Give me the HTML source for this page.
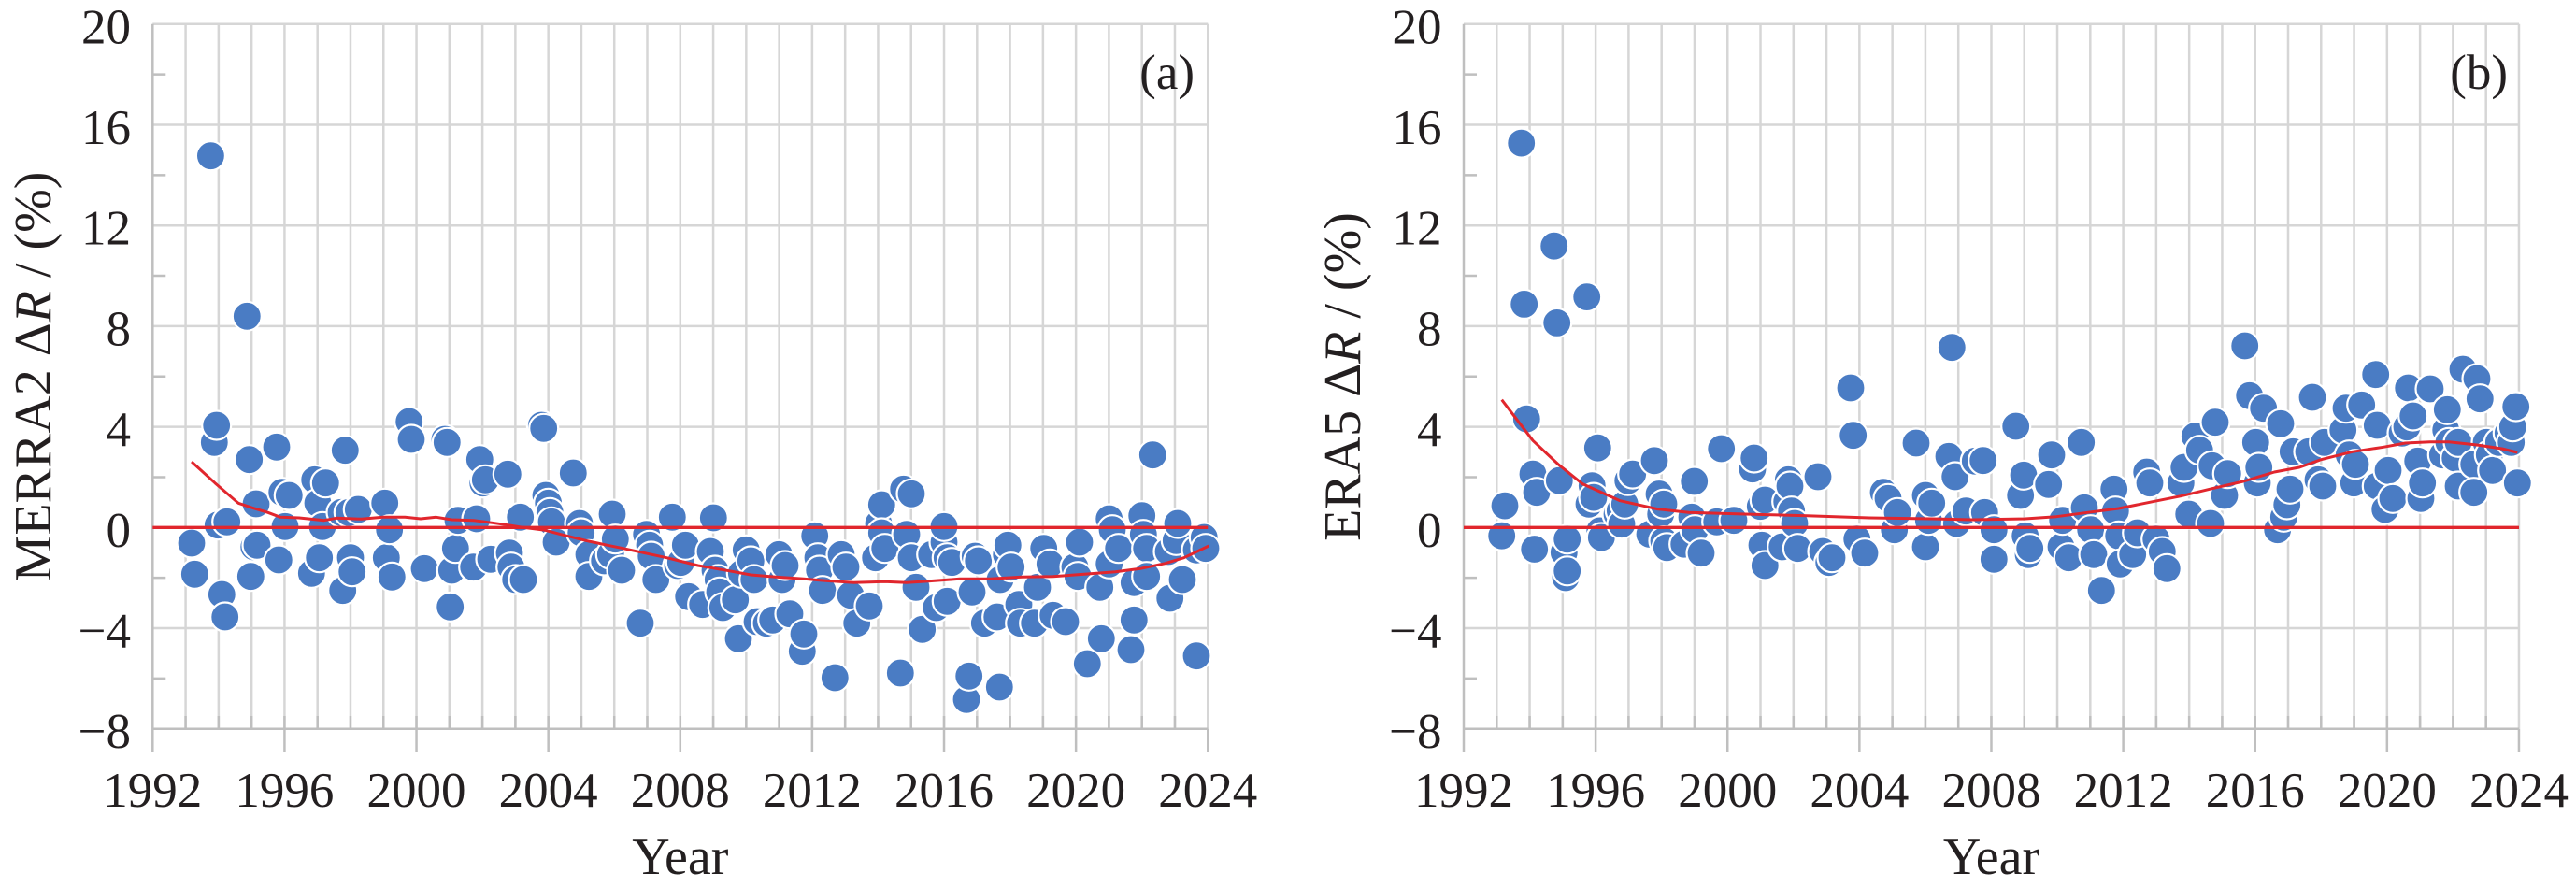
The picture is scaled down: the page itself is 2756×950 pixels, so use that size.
<!DOCTYPE html>
<html><head><meta charset="utf-8"><style>html,body{margin:0;padding:0;background:#fff}svg{display:block}</style></head>
<body>
<svg width="2756" height="950" viewBox="0 0 2756 950" xmlns="http://www.w3.org/2000/svg">
<rect width="2756" height="950" fill="#fff"/>
<g font-family="'Liberation Serif', 'Times New Roman', serif" fill="#231f20">

<!-- ================= PANEL A ================= -->
<g>
<path fill="none" stroke="#d6d6d6" stroke-width="2.5" d="M198.58 25.8v754m35.28-754v754m35.28-754v754m35.28-754v754m35.28-754v754m35.28-754v754m35.28-754v754m35.28-754v754m35.28-754v754m35.28-754v754m35.28-754v754m35.28-754v754m35.28-754v754m35.28-754v754m35.28-754v754m35.28-754v754m35.28-754v754m35.28-754v754m35.28-754v754m35.28-754v754m35.28-754v754m35.28-754v754m35.28-754v754m35.28-754v754m35.28-754v754m35.28-754v754m35.28-754v754m35.28-754v754m35.28-754v754m35.28-754v754m35.28-754v754m35.28-754v754"/>
<path fill="none" stroke="#d6d6d6" stroke-width="2.5" d="M163.3 25.8H1292.3M163.3 133.5H1292.3M163.3 241.2H1292.3M163.3 348.9H1292.3M163.3 456.6H1292.3M163.3 564.3H1292.3M163.3 672H1292.3"/>
<path fill="none" stroke="#bfbfbf" stroke-width="2.5" d="M198.58 766v14m35.28-14v14m35.28-14v14m35.28-14v14m35.28-14v14m35.28-14v14m35.28-14v14m35.28-14v14m35.28-14v14m35.28-14v14m35.28-14v14m35.28-14v14m35.28-14v14m35.28-14v14m35.28-14v14m35.28-14v14m35.28-14v14m35.28-14v14m35.28-14v14m35.28-14v14m35.28-14v14m35.28-14v14m35.28-14v14m35.28-14v14m35.28-14v14m35.28-14v14m35.28-14v14m35.28-14v14m35.28-14v14m35.28-14v14m35.28-14v14"/>
<path fill="none" stroke="#bfbfbf" stroke-width="2.5" d="M163.3 25.8V805M163.3 779.7H1292.3M304.42 779.7v25M445.54 779.7v25M586.66 779.7v25M727.78 779.7v25M868.9 779.7v25M1010.02 779.7v25M1151.14 779.7v25M1292.26 779.7v25M163.3 79.65h14M163.3 187.35h14M163.3 295.05h14M163.3 402.75h14M163.3 510.45h14M163.3 618.15h14M163.3 725.85h14"/>

<g font-size="53" text-anchor="end">
<text x="140" y="46.3">20</text>
<text x="140" y="154">16</text>
<text x="140" y="261.7">12</text>
<text x="140" y="369.4">8</text>
<text x="140" y="477.1">4</text>
<text x="140" y="584.8">0</text>
<text x="140" y="692.5">−4</text>
<text x="140" y="800.2">−8</text>
</g>
<g font-size="53" text-anchor="middle">
<text x="163.3" y="863">1992</text>
<text x="304.42" y="863">1996</text>
<text x="445.54" y="863">2000</text>
<text x="586.66" y="863">2004</text>
<text x="727.78" y="863">2008</text>
<text x="868.9" y="863">2012</text>
<text x="1010.02" y="863">2016</text>
<text x="1151.14" y="863">2020</text>
<text x="1292.26" y="863">2024</text>
</g>
<text x="727.8" y="935" font-size="56" text-anchor="middle">Year</text>
<text transform="translate(54,403) rotate(-90)" font-size="56" text-anchor="middle">MERRA2 Δ<tspan font-style="italic">R</tspan> / (%)</text>
<text x="1278" y="95" font-size="53" text-anchor="end">(a)</text>

<g fill="#4a7cc4" stroke="#fff" stroke-width="2.2">
<circle cx="205" cy="581" r="15.5"/><circle cx="208.3" cy="614.3" r="15.5"/><circle cx="225.4" cy="166.7" r="15.5"/><circle cx="229.3" cy="473.3" r="15.5"/><circle cx="231.7" cy="455" r="15.5"/><circle cx="233.3" cy="561.7" r="15.5"/><circle cx="237.3" cy="636" r="15.5"/><circle cx="240.7" cy="660" r="15.5"/><circle cx="242.7" cy="558.3" r="15.5"/><circle cx="264.3" cy="338.3" r="15.5"/><circle cx="266.7" cy="491.7" r="15.5"/><circle cx="268.3" cy="616.7" r="15.5"/><circle cx="271.7" cy="585" r="15.5"/><circle cx="274" cy="539" r="15.5"/><circle cx="275" cy="583.3" r="15.5"/><circle cx="296" cy="478.3" r="15.5"/><circle cx="298.3" cy="599" r="15.5"/><circle cx="301.7" cy="526.7" r="15.5"/><circle cx="305" cy="563.3" r="15.5"/><circle cx="309.3" cy="530" r="15.5"/><circle cx="333.3" cy="613.3" r="15.5"/><circle cx="336.7" cy="513.3" r="15.5"/><circle cx="340" cy="538.3" r="15.5"/><circle cx="341.7" cy="596.7" r="15.5"/><circle cx="345" cy="563.3" r="15.5"/><circle cx="348.3" cy="516.7" r="15.5"/><circle cx="365" cy="548.3" r="15.5"/><circle cx="366.7" cy="631.7" r="15.5"/><circle cx="369.3" cy="481.7" r="15.5"/><circle cx="373.3" cy="548.3" r="15.5"/><circle cx="375" cy="596.7" r="15.5"/><circle cx="376.7" cy="611.7" r="15.5"/><circle cx="383.3" cy="545" r="15.5"/><circle cx="411.7" cy="538.3" r="15.5"/><circle cx="413.3" cy="596.7" r="15.5"/><circle cx="416.7" cy="566.7" r="15.5"/><circle cx="419.3" cy="617.3" r="15.5"/><circle cx="437.7" cy="451" r="15.5"/><circle cx="440" cy="470" r="15.5"/><circle cx="454" cy="608.3" r="15.5"/><circle cx="476" cy="470" r="15.5"/><circle cx="478.3" cy="473.3" r="15.5"/><circle cx="481.7" cy="649.3" r="15.5"/><circle cx="483.3" cy="610" r="15.5"/><circle cx="487.3" cy="586.7" r="15.5"/><circle cx="490" cy="556.7" r="15.5"/><circle cx="506.7" cy="606.7" r="15.5"/><circle cx="510" cy="555" r="15.5"/><circle cx="513.3" cy="491.7" r="15.5"/><circle cx="516.7" cy="516.7" r="15.5"/><circle cx="519.3" cy="513.3" r="15.5"/><circle cx="525" cy="598.3" r="15.5"/><circle cx="543.3" cy="507.3" r="15.5"/><circle cx="545" cy="591.7" r="15.5"/><circle cx="546.7" cy="606.7" r="15.5"/><circle cx="551.7" cy="620" r="15.5"/><circle cx="556.7" cy="553.3" r="15.5"/><circle cx="560" cy="620" r="15.5"/><circle cx="579.3" cy="455" r="15.5"/><circle cx="581.7" cy="458.3" r="15.5"/><circle cx="584" cy="530" r="15.5"/><circle cx="586.7" cy="538.3" r="15.5"/><circle cx="588.3" cy="548.3" r="15.5"/><circle cx="590" cy="558.3" r="15.5"/><circle cx="595" cy="580" r="15.5"/><circle cx="613.3" cy="506" r="15.5"/><circle cx="620" cy="560" r="15.5"/><circle cx="621.7" cy="570" r="15.5"/><circle cx="630" cy="593.3" r="15.5"/><circle cx="630" cy="616.7" r="15.5"/><circle cx="646.7" cy="600" r="15.5"/><circle cx="653.3" cy="593.3" r="15.5"/><circle cx="655" cy="550" r="15.5"/><circle cx="658.3" cy="576.7" r="15.5"/><circle cx="665" cy="610" r="15.5"/><circle cx="685" cy="666.7" r="15.5"/><circle cx="691.7" cy="571.7" r="15.5"/><circle cx="695" cy="583.3" r="15.5"/><circle cx="696.7" cy="595" r="15.5"/><circle cx="701.7" cy="620" r="15.5"/><circle cx="719.3" cy="553.3" r="15.5"/><circle cx="725" cy="605" r="15.5"/><circle cx="728.3" cy="601.7" r="15.5"/><circle cx="733.3" cy="583.3" r="15.5"/><circle cx="736.7" cy="638.3" r="15.5"/><circle cx="751.7" cy="646.7" r="15.5"/><circle cx="760" cy="590" r="15.5"/><circle cx="763.3" cy="554" r="15.5"/><circle cx="765" cy="610" r="15.5"/><circle cx="768.3" cy="620" r="15.5"/><circle cx="770" cy="633.3" r="15.5"/><circle cx="773.3" cy="650" r="15.5"/><circle cx="786.7" cy="641.7" r="15.5"/><circle cx="790" cy="683.3" r="15.5"/><circle cx="793.3" cy="613.3" r="15.5"/><circle cx="798.3" cy="588.3" r="15.5"/><circle cx="803.3" cy="600" r="15.5"/><circle cx="806.7" cy="620" r="15.5"/><circle cx="810" cy="665" r="15.5"/><circle cx="820" cy="666.7" r="15.5"/><circle cx="826.7" cy="663.3" r="15.5"/><circle cx="833.3" cy="593.3" r="15.5"/><circle cx="836.7" cy="620" r="15.5"/><circle cx="840" cy="605" r="15.5"/><circle cx="845" cy="656.7" r="15.5"/><circle cx="858.3" cy="696.7" r="15.5"/><circle cx="860" cy="678.3" r="15.5"/><circle cx="871.7" cy="573.3" r="15.5"/><circle cx="875" cy="596.7" r="15.5"/><circle cx="876.7" cy="610" r="15.5"/><circle cx="880" cy="631.7" r="15.5"/><circle cx="893.3" cy="725" r="15.5"/><circle cx="900" cy="593.3" r="15.5"/><circle cx="905" cy="606.7" r="15.5"/><circle cx="910" cy="636.7" r="15.5"/><circle cx="916.7" cy="666.7" r="15.5"/><circle cx="930" cy="648.3" r="15.5"/><circle cx="936.7" cy="596.7" r="15.5"/><circle cx="940" cy="560" r="15.5"/><circle cx="943.3" cy="540" r="15.5"/><circle cx="943.3" cy="570" r="15.5"/><circle cx="946.7" cy="586.7" r="15.5"/><circle cx="963.3" cy="720" r="15.5"/><circle cx="966.7" cy="523.3" r="15.5"/><circle cx="970" cy="571.7" r="15.5"/><circle cx="975" cy="528.3" r="15.5"/><circle cx="975" cy="596.7" r="15.5"/><circle cx="980" cy="628.3" r="15.5"/><circle cx="986.7" cy="673.3" r="15.5"/><circle cx="996.7" cy="593.3" r="15.5"/><circle cx="1001.7" cy="650" r="15.5"/><circle cx="1010" cy="580" r="15.5"/><circle cx="1010" cy="563.3" r="15.5"/><circle cx="1013.3" cy="596.7" r="15.5"/><circle cx="1013.3" cy="643.3" r="15.5"/><circle cx="1018.3" cy="601.7" r="15.5"/><circle cx="1034" cy="748.3" r="15.5"/><circle cx="1036.7" cy="723.3" r="15.5"/><circle cx="1040" cy="633.3" r="15.5"/><circle cx="1043.3" cy="595" r="15.5"/><circle cx="1046.7" cy="600" r="15.5"/><circle cx="1053.3" cy="666.7" r="15.5"/><circle cx="1066.7" cy="660" r="15.5"/><circle cx="1069.3" cy="735" r="15.5"/><circle cx="1070" cy="620" r="15.5"/><circle cx="1076.7" cy="593.3" r="15.5"/><circle cx="1078.3" cy="583.3" r="15.5"/><circle cx="1081.7" cy="606.7" r="15.5"/><circle cx="1090" cy="646.7" r="15.5"/><circle cx="1091.7" cy="666.7" r="15.5"/><circle cx="1106.7" cy="666.7" r="15.5"/><circle cx="1110" cy="628.3" r="15.5"/><circle cx="1116.7" cy="586.7" r="15.5"/><circle cx="1123.3" cy="603.3" r="15.5"/><circle cx="1126.7" cy="658.3" r="15.5"/><circle cx="1140" cy="665" r="15.5"/><circle cx="1150" cy="606.7" r="15.5"/><circle cx="1153.3" cy="616.7" r="15.5"/><circle cx="1155" cy="580" r="15.5"/><circle cx="1163.3" cy="710" r="15.5"/><circle cx="1176.7" cy="628.3" r="15.5"/><circle cx="1178.3" cy="683.3" r="15.5"/><circle cx="1186.7" cy="555" r="15.5"/><circle cx="1186.7" cy="603.3" r="15.5"/><circle cx="1190" cy="566.7" r="15.5"/><circle cx="1196.7" cy="586.7" r="15.5"/><circle cx="1210" cy="695" r="15.5"/><circle cx="1213.3" cy="623.3" r="15.5"/><circle cx="1213.3" cy="663.3" r="15.5"/><circle cx="1221.7" cy="551.7" r="15.5"/><circle cx="1223.3" cy="571.7" r="15.5"/><circle cx="1226.7" cy="586.7" r="15.5"/><circle cx="1226.7" cy="616.7" r="15.5"/><circle cx="1233.3" cy="486.7" r="15.5"/><circle cx="1250" cy="590" r="15.5"/><circle cx="1251.7" cy="640" r="15.5"/><circle cx="1258.3" cy="578.3" r="15.5"/><circle cx="1260" cy="560" r="15.5"/><circle cx="1265" cy="620" r="15.5"/><circle cx="1280" cy="588.3" r="15.5"/><circle cx="1280" cy="701.7" r="15.5"/><circle cx="1288.3" cy="575" r="15.5"/><circle cx="1290" cy="586.7" r="15.5"/>
</g>

<path fill="none" stroke="#e1262d" stroke-width="3.3" d="M163.3 564.3H1292.3"/>
<path fill="none" stroke="#e1262d" stroke-width="3" stroke-linejoin="round" d="M205 494L230 516.7L255 538.3L270 543.3L286.7 548.3L300 553.3L320 554L346.7 556.7L360 554.3L386.7 555.3L410 553.3L433.3 553.3L450 555L466.7 553.3L483.3 556L506.7 556.7L526.7 559.3L543.3 561.7L560 564.3L583.3 567.3L600 571.7L626.7 578.3L650 583.3L666.7 586.7L690 591.7L713.3 596.7L746.7 605L780 610.7L803.3 615L830 617.3L860 619.3L880 621L913.3 623.3L946.7 622.3L970 623.3L993.3 621.7L1026.7 619.3L1060 619.3L1093.3 617.3L1126.7 616.7L1160 614.3L1193.3 611.7L1220 608.3L1246.7 602.7L1266.7 596.7L1293.3 584"/>
</g>

<!-- ================= PANEL B ================= -->
<g>
<path fill="none" stroke="#d6d6d6" stroke-width="2.5" d="M1601.28 25.8v754m35.28-754v754m35.28-754v754m35.28-754v754m35.28-754v754m35.28-754v754m35.28-754v754m35.28-754v754m35.28-754v754m35.28-754v754m35.28-754v754m35.28-754v754m35.28-754v754m35.28-754v754m35.28-754v754m35.28-754v754m35.28-754v754m35.28-754v754m35.28-754v754m35.28-754v754m35.28-754v754m35.28-754v754m35.28-754v754m35.28-754v754m35.28-754v754m35.28-754v754m35.28-754v754m35.28-754v754m35.28-754v754m35.28-754v754m35.28-754v754m35.28-754v754"/>
<path fill="none" stroke="#d6d6d6" stroke-width="2.5" d="M1566 25.8H2695M1566 133.5H2695M1566 241.2H2695M1566 348.9H2695M1566 456.6H2695M1566 564.3H2695M1566 672H2695"/>
<path fill="none" stroke="#bfbfbf" stroke-width="2.5" d="M1601.28 766v14m35.28-14v14m35.28-14v14m35.28-14v14m35.28-14v14m35.28-14v14m35.28-14v14m35.28-14v14m35.28-14v14m35.28-14v14m35.28-14v14m35.28-14v14m35.28-14v14m35.28-14v14m35.28-14v14m35.28-14v14m35.28-14v14m35.28-14v14m35.28-14v14m35.28-14v14m35.28-14v14m35.28-14v14m35.28-14v14m35.28-14v14m35.28-14v14m35.28-14v14m35.28-14v14m35.28-14v14m35.28-14v14m35.28-14v14m35.28-14v14"/>
<path fill="none" stroke="#bfbfbf" stroke-width="2.5" d="M1566 25.8V805M1566 779.7H2695M1707.12 779.7v25M1848.24 779.7v25M1989.36 779.7v25M2130.48 779.7v25M2271.6 779.7v25M2412.72 779.7v25M2553.84 779.7v25M2694.96 779.7v25M1566 79.65h14M1566 187.35h14M1566 295.05h14M1566 402.75h14M1566 510.45h14M1566 618.15h14M1566 725.85h14"/>

<g font-size="53" text-anchor="end">
<text x="1542.5" y="46.3">20</text>
<text x="1542.5" y="154">16</text>
<text x="1542.5" y="261.7">12</text>
<text x="1542.5" y="369.4">8</text>
<text x="1542.5" y="477.1">4</text>
<text x="1542.5" y="584.8">0</text>
<text x="1542.5" y="692.5">−4</text>
<text x="1542.5" y="800.2">−8</text>
</g>
<g font-size="53" text-anchor="middle">
<text x="1566" y="863">1992</text>
<text x="1707.12" y="863">1996</text>
<text x="1848.24" y="863">2000</text>
<text x="1989.36" y="863">2004</text>
<text x="2130.48" y="863">2008</text>
<text x="2271.6" y="863">2012</text>
<text x="2412.72" y="863">2016</text>
<text x="2553.84" y="863">2020</text>
<text x="2694.96" y="863">2024</text>
</g>
<text x="2130.5" y="935" font-size="56" text-anchor="middle">Year</text>
<text transform="translate(1455,403) rotate(-90)" font-size="56" text-anchor="middle">ERA5 Δ<tspan font-style="italic">R</tspan> / (%)</text>
<text x="2683" y="95" font-size="53" text-anchor="end">(b)</text>

<g fill="#4a7cc4" stroke="#fff" stroke-width="2.2">
<circle cx="1606.7" cy="573.2" r="15.5"/><circle cx="1610" cy="541.1" r="15.5"/><circle cx="1627.7" cy="153.1" r="15.5"/><circle cx="1630.7" cy="325.4" r="15.5"/><circle cx="1633.3" cy="448.1" r="15.5"/><circle cx="1640" cy="507.1" r="15.5"/><circle cx="1641.7" cy="587.5" r="15.5"/><circle cx="1644" cy="526.7" r="15.5"/><circle cx="1662.7" cy="263.2" r="15.5"/><circle cx="1665.7" cy="345.4" r="15.5"/><circle cx="1668.3" cy="514.2" r="15.5"/><circle cx="1673.3" cy="591.1" r="15.5"/><circle cx="1675" cy="618" r="15.5"/><circle cx="1676.7" cy="576.8" r="15.5"/><circle cx="1676.7" cy="610.8" r="15.5"/><circle cx="1697.7" cy="317.6" r="15.5"/><circle cx="1700" cy="539.3" r="15.5"/><circle cx="1703.3" cy="519.6" r="15.5"/><circle cx="1705" cy="532.1" r="15.5"/><circle cx="1709.3" cy="479.2" r="15.5"/><circle cx="1711.7" cy="567.9" r="15.5"/><circle cx="1713.3" cy="575" r="15.5"/><circle cx="1730" cy="550" r="15.5"/><circle cx="1733.3" cy="546.4" r="15.5"/><circle cx="1735" cy="560.7" r="15.5"/><circle cx="1738.3" cy="539.3" r="15.5"/><circle cx="1741.7" cy="514.2" r="15.5"/><circle cx="1746.7" cy="507.1" r="15.5"/><circle cx="1765" cy="571.5" r="15.5"/><circle cx="1770" cy="492.8" r="15.5"/><circle cx="1775" cy="528.5" r="15.5"/><circle cx="1776.7" cy="550" r="15.5"/><circle cx="1780" cy="539.3" r="15.5"/><circle cx="1780" cy="578.6" r="15.5"/><circle cx="1783.3" cy="585.8" r="15.5"/><circle cx="1801.7" cy="582.2" r="15.5"/><circle cx="1810" cy="553.3" r="15.5"/><circle cx="1812.7" cy="515" r="15.5"/><circle cx="1813.3" cy="566.7" r="15.5"/><circle cx="1820" cy="591.7" r="15.5"/><circle cx="1836.7" cy="558.3" r="15.5"/><circle cx="1841.7" cy="480" r="15.5"/><circle cx="1855" cy="556.7" r="15.5"/><circle cx="1875" cy="501.7" r="15.5"/><circle cx="1876.7" cy="490" r="15.5"/><circle cx="1883.3" cy="541.7" r="15.5"/><circle cx="1885" cy="583.3" r="15.5"/><circle cx="1888.3" cy="535" r="15.5"/><circle cx="1888.3" cy="605" r="15.5"/><circle cx="1906.7" cy="585" r="15.5"/><circle cx="1911.7" cy="536.7" r="15.5"/><circle cx="1913.3" cy="513.3" r="15.5"/><circle cx="1915" cy="520" r="15.5"/><circle cx="1916.7" cy="546.7" r="15.5"/><circle cx="1920" cy="560" r="15.5"/><circle cx="1923.3" cy="586.7" r="15.5"/><circle cx="1945" cy="510" r="15.5"/><circle cx="1950" cy="590" r="15.5"/><circle cx="1956.7" cy="601.7" r="15.5"/><circle cx="1960" cy="596.7" r="15.5"/><circle cx="1980" cy="415" r="15.5"/><circle cx="1982.7" cy="465.7" r="15.5"/><circle cx="1986.7" cy="576.7" r="15.5"/><circle cx="1995" cy="591.7" r="15.5"/><circle cx="2015" cy="526.7" r="15.5"/><circle cx="2020" cy="533.3" r="15.5"/><circle cx="2026.7" cy="566.7" r="15.5"/><circle cx="2030" cy="548.3" r="15.5"/><circle cx="2050" cy="474" r="15.5"/><circle cx="2060" cy="530" r="15.5"/><circle cx="2060" cy="585" r="15.5"/><circle cx="2063.3" cy="556.7" r="15.5"/><circle cx="2066.7" cy="538.3" r="15.5"/><circle cx="2085" cy="488.3" r="15.5"/><circle cx="2088.3" cy="371.7" r="15.5"/><circle cx="2091.7" cy="510" r="15.5"/><circle cx="2093.3" cy="560" r="15.5"/><circle cx="2103.3" cy="546.7" r="15.5"/><circle cx="2113.3" cy="493.3" r="15.5"/><circle cx="2121.7" cy="492.7" r="15.5"/><circle cx="2123.3" cy="548.3" r="15.5"/><circle cx="2133.3" cy="566.7" r="15.5"/><circle cx="2133.3" cy="598.3" r="15.5"/><circle cx="2156.7" cy="456" r="15.5"/><circle cx="2161.7" cy="530" r="15.5"/><circle cx="2165" cy="508.3" r="15.5"/><circle cx="2166.7" cy="573.3" r="15.5"/><circle cx="2170" cy="593.3" r="15.5"/><circle cx="2171.7" cy="586.7" r="15.5"/><circle cx="2191.7" cy="518.3" r="15.5"/><circle cx="2195" cy="486.7" r="15.5"/><circle cx="2205" cy="585" r="15.5"/><circle cx="2206.7" cy="556.7" r="15.5"/><circle cx="2213.3" cy="596.7" r="15.5"/><circle cx="2226.7" cy="473.3" r="15.5"/><circle cx="2230" cy="543.3" r="15.5"/><circle cx="2236.7" cy="566.7" r="15.5"/><circle cx="2240" cy="593.3" r="15.5"/><circle cx="2248.3" cy="631.7" r="15.5"/><circle cx="2261.7" cy="523.3" r="15.5"/><circle cx="2263.3" cy="546.7" r="15.5"/><circle cx="2266.7" cy="573.3" r="15.5"/><circle cx="2268.3" cy="603.3" r="15.5"/><circle cx="2281.7" cy="593.3" r="15.5"/><circle cx="2286.7" cy="570" r="15.5"/><circle cx="2296.7" cy="505" r="15.5"/><circle cx="2300" cy="516.7" r="15.5"/><circle cx="2306.7" cy="576.7" r="15.5"/><circle cx="2313.3" cy="590" r="15.5"/><circle cx="2318.3" cy="608.3" r="15.5"/><circle cx="2333.3" cy="516.7" r="15.5"/><circle cx="2336.7" cy="500" r="15.5"/><circle cx="2341.7" cy="550" r="15.5"/><circle cx="2348.3" cy="466.7" r="15.5"/><circle cx="2353.3" cy="481.7" r="15.5"/><circle cx="2365" cy="560" r="15.5"/><circle cx="2366.7" cy="498.3" r="15.5"/><circle cx="2370" cy="451.7" r="15.5"/><circle cx="2380" cy="530" r="15.5"/><circle cx="2383.3" cy="506.7" r="15.5"/><circle cx="2401.7" cy="370" r="15.5"/><circle cx="2406.7" cy="423.3" r="15.5"/><circle cx="2413.3" cy="473.3" r="15.5"/><circle cx="2415" cy="516.7" r="15.5"/><circle cx="2416.7" cy="500" r="15.5"/><circle cx="2421.7" cy="436.7" r="15.5"/><circle cx="2436.7" cy="566.7" r="15.5"/><circle cx="2440" cy="453.3" r="15.5"/><circle cx="2443.3" cy="553.3" r="15.5"/><circle cx="2446.7" cy="540" r="15.5"/><circle cx="2450" cy="523.3" r="15.5"/><circle cx="2453.3" cy="483.3" r="15.5"/><circle cx="2470" cy="483.3" r="15.5"/><circle cx="2474" cy="425" r="15.5"/><circle cx="2480" cy="513.3" r="15.5"/><circle cx="2485" cy="520" r="15.5"/><circle cx="2486.7" cy="473.3" r="15.5"/><circle cx="2506.7" cy="460" r="15.5"/><circle cx="2510" cy="436.7" r="15.5"/><circle cx="2513.3" cy="486.7" r="15.5"/><circle cx="2518.3" cy="516.7" r="15.5"/><circle cx="2520" cy="496.7" r="15.5"/><circle cx="2526.7" cy="433.3" r="15.5"/><circle cx="2541.7" cy="400.7" r="15.5"/><circle cx="2543.3" cy="455" r="15.5"/><circle cx="2543.3" cy="520" r="15.5"/><circle cx="2551.7" cy="545" r="15.5"/><circle cx="2555" cy="503.3" r="15.5"/><circle cx="2560" cy="533.3" r="15.5"/><circle cx="2570" cy="463.3" r="15.5"/><circle cx="2575" cy="456.7" r="15.5"/><circle cx="2576.7" cy="415" r="15.5"/><circle cx="2581.7" cy="445" r="15.5"/><circle cx="2586.7" cy="493.3" r="15.5"/><circle cx="2590" cy="533.3" r="15.5"/><circle cx="2591.7" cy="516.7" r="15.5"/><circle cx="2600" cy="416" r="15.5"/><circle cx="2613.3" cy="486.7" r="15.5"/><circle cx="2616.7" cy="460" r="15.5"/><circle cx="2618.3" cy="438.3" r="15.5"/><circle cx="2620" cy="473.3" r="15.5"/><circle cx="2626.7" cy="490" r="15.5"/><circle cx="2630" cy="473.3" r="15.5"/><circle cx="2630" cy="520" r="15.5"/><circle cx="2635" cy="395" r="15.5"/><circle cx="2646.7" cy="496.7" r="15.5"/><circle cx="2646.7" cy="526.7" r="15.5"/><circle cx="2650" cy="405" r="15.5"/><circle cx="2653.3" cy="426.7" r="15.5"/><circle cx="2660" cy="473.3" r="15.5"/><circle cx="2663.3" cy="486.7" r="15.5"/><circle cx="2666.7" cy="503.3" r="15.5"/><circle cx="2673.3" cy="473.3" r="15.5"/><circle cx="2683.3" cy="463.3" r="15.5"/><circle cx="2686.7" cy="473.3" r="15.5"/><circle cx="2688.3" cy="456.7" r="15.5"/><circle cx="2691.7" cy="435" r="15.5"/><circle cx="2693.3" cy="516.7" r="15.5"/>
</g>

<path fill="none" stroke="#e1262d" stroke-width="3.3" d="M1566 564.3H2695"/>
<path fill="none" stroke="#e1262d" stroke-width="3" stroke-linejoin="round" d="M1606.7 427.7L1640 471.3L1666.7 496.4L1693.3 517.8L1733.3 535.7L1773.3 544.6L1806.7 548.2L1866.7 550L1933.3 551.7L2000 554L2066.7 555L2110 556L2166.7 555L2200 552.7L2233.3 548.3L2266.7 544L2300 537.3L2333.3 530.7L2366.7 522.7L2400 515L2433.3 505L2460 500L2483.3 491.7L2516.7 483.3L2550 478.3L2573.3 474L2600 472.7L2620 472.7L2650 476L2676.7 480L2693.3 484"/>
</g>

</g>
</svg>
</body></html>
